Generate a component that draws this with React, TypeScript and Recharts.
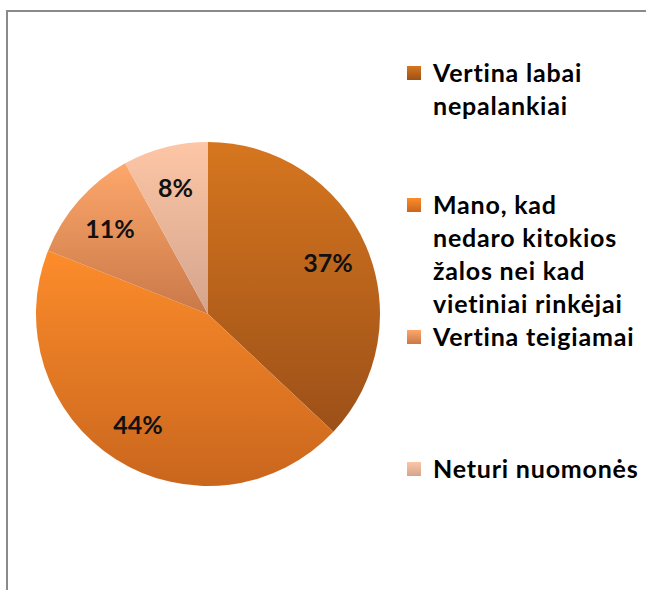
import { PieChart, Pie, Cell, Legend } from "recharts";

const CATEGORIES = [
  "Vertina labai nepalankiai",
  "Mano, kad nedaro kitokios žalos nei kad vietiniai rinkėjai",
  "Vertina teigiamai",
  "Neturi nuomonės",
];

// how the legend breaks each label into lines
const LEGEND_LINES = [
  ["Vertina labai", "nepalankiai"],
  ["Mano, kad", "nedaro kitokios", "žalos nei kad", "vietiniai rinkėjai"],
  ["Vertina teigiamai"],
  ["Neturi nuomonės"],
];

const SHARES = [37, 44, 11, 8];

// top / bottom colour of each slice gradient
const GRADIENTS = [
  ["#d6761f", "#9c5018"],
  ["#fd8c2b", "#c9661d"],
  ["#fda76b", "#c97848"],
  ["#fdc6a6", "#d3a48c"],
];

const data = CATEGORIES.map((name, i) => ({ name, value: SHARES[i] }));

const RAD = Math.PI / 180;
const FONT = "Lato, 'Open Sans', sans-serif";

function renderLabel(props: any) {
  const { cx, cy, midAngle, outerRadius, value } = props;
  const r = outerRadius * 0.76;
  const x = cx + r * Math.cos(-midAngle * RAD);
  const y = cy + r * Math.sin(-midAngle * RAD);
  return (
    <text
      x={x}
      y={y}
      textAnchor="middle"
      dominantBaseline="central"
      fill="#111"
      fontSize={25}
      fontWeight={700}
      fontFamily={FONT}
      style={{ fontVariantLigatures: "none" }}
    >
      {value}%
    </text>
  );
}

function renderLegend() {
  return (
    <div
      style={{
        fontFamily: FONT,
        fontWeight: 700,
        fontSize: 25,
        letterSpacing: 0.8,
        color: "#000",
        fontVariantLigatures: "none",
      }}
    >
      {CATEGORIES.map((name, i) => (
        <div key={name} style={{ height: 132, display: "flex", alignItems: "flex-start" }}>
          <svg width={14} height={14} style={{ marginTop: 10, marginRight: 12, flex: "none" }}>
            <rect width={14} height={14} fill={`url(#slice${i})`} />
          </svg>
          <div style={{ lineHeight: "33px" }}>
            {LEGEND_LINES[i].map((line) => (
              <div key={line} style={{ whiteSpace: "nowrap" }}>{line}</div>
            ))}
          </div>
        </div>
      ))}
    </div>
  );
}

export default function App() {
  return (
    <div
      style={{
        position: "absolute",
        left: 0,
        top: 0,
        width: 646,
        height: 590,
        overflow: "hidden",
        background: "#fff",
      }}
    >
      <style>{`
        html, body { overflow: hidden; }
        .recharts-pie-sectors { filter: url(#pieShadow); }
      `}</style>
      <div style={{ position: "absolute", left: 6, top: 10, width: 2, height: 580, background: "#8a8a8a" }} />
      <div style={{ position: "absolute", left: 6, top: 10, width: 640, height: 2, background: "#8a8a8a" }} />
      <div style={{ position: "absolute", left: 0, top: 0 }}>
        <PieChart width={646} height={590} margin={{ top: 0, right: 0, bottom: 0, left: 0 }}>
          <defs>
            {GRADIENTS.map(([top, bottom], i) => (
              <linearGradient key={i} id={`slice${i}`} x1="0" y1="0" x2="0" y2="1">
                <stop offset="0%" stopColor={top} />
                <stop offset="100%" stopColor={bottom} />
              </linearGradient>
            ))}
            <filter id="pieShadow" x="-20%" y="-20%" width="140%" height="140%">
              <feDropShadow dx="2" dy="4" stdDeviation="3" floodColor="#000" floodOpacity="0.35" />
            </filter>
          </defs>
          <Pie
            data={data}
            dataKey="value"
            nameKey="name"
            cx={208}
            cy={314}
            outerRadius={172}
            startAngle={90}
            endAngle={-270}
            stroke="none"
            label={renderLabel}
            labelLine={false}
            isAnimationActive={false}
          >
            {data.map((_, i) => (
              <Cell key={i} fill={`url(#slice${i})`} />
            ))}
          </Pie>
          <Legend
            layout="vertical"
            content={renderLegend}
            wrapperStyle={{ left: 407, top: 56, width: 225 }}
          />
        </PieChart>
      </div>
    </div>
  );
}
